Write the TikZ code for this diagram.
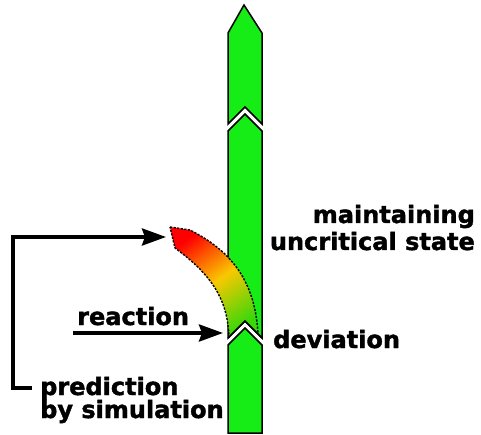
\documentclass[tikz,border=0pt]{standalone}
\usepackage{fontspec}
\setmainfont[BoldFeatures={FakeBold=1.6}]{DejaVu Sans}
\usetikzlibrary{arrows.meta}
\definecolor{colgreen}{RGB}{22,236,22}
\definecolor{gradred}{RGB}{255,0,0}
\definecolor{gradyellow}{RGB}{250,200,0}
\definecolor{gradgreen}{RGB}{60,215,10}
\begin{document}
\begin{tikzpicture}[x=1pt,y=-1pt,
  seg/.style={fill=colgreen, draw=black, line width=1.5pt, line join=miter},
  lbl/.style={font=\bfseries\fontsize{24}{28}\selectfont, inner sep=0pt},
  arr/.style={line width=3.8pt, -{Stealth[length=24pt,width=17pt,inset=3pt]}},
  dashedge/.style={draw=black, line width=1.4pt, dash pattern=on 2.2pt off 1.4pt}]
\useasboundingbox (0,0) rectangle (481,435);

% column segments
\draw[seg] (244,5) -- (262,33) -- (262,124) -- (245,107) -- (228,124) -- (228,33) -- cycle;
\draw[seg] (228,131) -- (245,114) -- (262,131) -- (262,338) -- (245,321) -- (228,338) -- cycle;
\draw[seg] (228,345) -- (245,328) -- (262,345) -- (262,433) -- (228,433) -- cycle;

% deviation band
\shade[top color=gradred, bottom color=gradgreen, middle color=gradyellow, shading angle=35]
  (170,227) -- (190,230) .. controls (225,248) and (255,275) .. (258,334)
  -- (245,321) -- (229,338) .. controls (228,300) and (212,275) .. (175,248) -- cycle;
\draw[dashedge]
  (170,227) -- (190,230) .. controls (225,248) and (255,275) .. (258,334);
\draw[dashedge]
  (229,338) .. controls (228,300) and (212,275) .. (175,248) -- (170,227);
\draw[black, line width=1.5pt] (228,338) -- (245,321) -- (262,338);

% labels
\node[lbl, anchor=base east] (maint) at (475,223) {maintaining};
\node[lbl, anchor=base east] (uncrit) at (475,250) {uncritical state};
\node[lbl, anchor=base west] (dev) at (273,348) {deviation};
\node[lbl, anchor=base west] (react) at (77,325) {reaction};
\node[lbl, anchor=base west] (pred) at (40,395) {prediction};
\node[lbl, anchor=base west] (bysim) at (40,418) {by simulation};

% connectors
\coordinate (fbstart) at (32,388);
\coordinate (fbcorner) at (13,237);
\coordinate (gradtip) at (166,237);
\coordinate (reactstart) at (73,333);
\coordinate (reacttip) at (223,333);
\draw[arr, line join=miter] (fbstart) -| (fbcorner) -- (gradtip);
\draw[arr] (reactstart) -- (reacttip);
\end{tikzpicture}
\end{document}
